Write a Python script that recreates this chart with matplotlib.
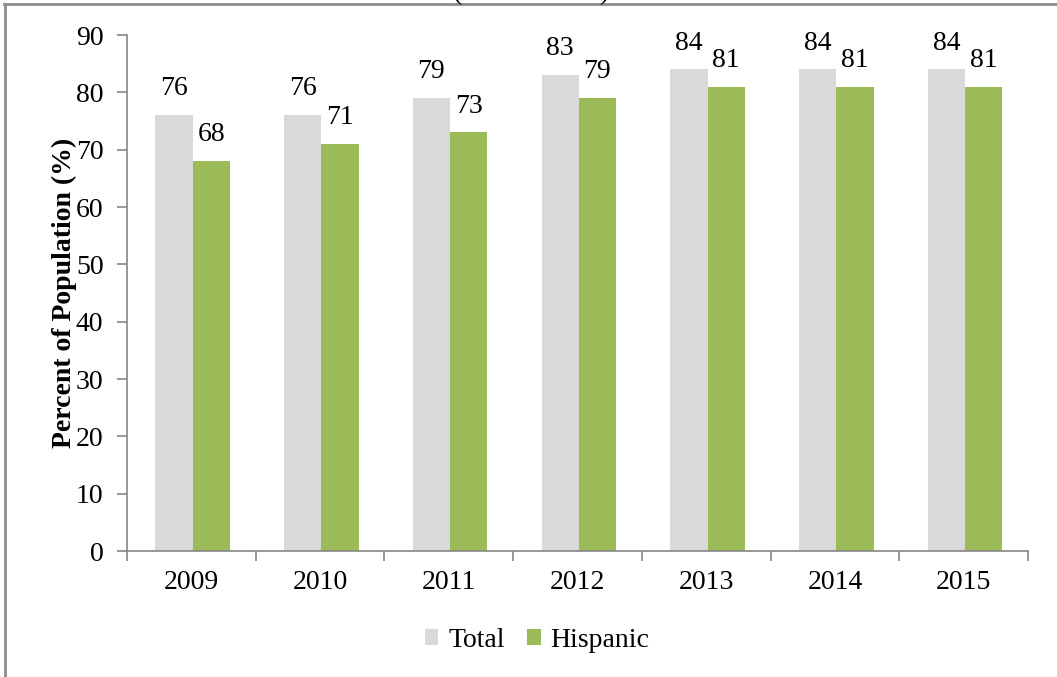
import numpy as np
import matplotlib.pyplot as plt
from matplotlib.lines import Line2D

years = ['2009', '2010', '2011', '2012', '2013', '2014', '2015']
total = [76, 76, 79, 83, 84, 84, 84]
hispanic = [68, 71, 73, 79, 81, 81, 81]

plt.rcParams['font.family'] = ['Liberation Serif', 'DejaVu Serif']
fs = 20

fig = plt.figure(figsize=(10.57, 6.77), dpi=100)
ax = fig.add_axes([0.1202, 0.1861, 0.8524, 0.7622])

x = np.arange(len(years))
w = 0.29
edge = '#868686'

b1 = ax.bar(x - w / 2 + 0.01, total, w, color='#D9D9D9', label='Total')
b2 = ax.bar(x + w / 2 + 0.01, hispanic, w, color='#9BBB59', label='Hispanic')

for bars, vals in ((b1, total), (b2, hispanic)):
    for r, v in zip(bars, vals):
        ax.annotate(str(v), (r.get_x() + r.get_width() / 2, v),
                    xytext=(0, 10), textcoords='offset points',
                    ha='center', va='bottom', fontsize=fs)

ax.set_xlim(-0.5, len(years) - 0.5)
ax.set_ylim(0, 90)
ax.set_yticks(range(0, 91, 10))
ax.set_xticks(x)
ax.set_xticklabels(years)
ax.set_xticks(np.arange(-0.5, len(years)), minor=True)

for s in ('top', 'right'):
    ax.spines[s].set_visible(False)
for s in ('left', 'bottom'):
    ax.spines[s].set_color(edge)
    ax.spines[s].set_linewidth(1.2)

ax.tick_params(axis='y', colors=edge, labelcolor='black', labelsize=fs,
               length=7, width=1.2, pad=10)
ax.tick_params(axis='x', which='major', length=0, labelsize=fs, pad=14)
ax.tick_params(axis='x', which='minor', colors=edge, length=7, width=1.2)

ax.set_ylabel('Percent of Population (%)', fontsize=fs, fontweight='bold')
ax.yaxis.set_label_coords(-0.056, 0.5)

fig.legend(handles=[b1, b2], loc='center', bbox_to_anchor=(0.508, 0.054),
           ncol=2, frameon=False, fontsize=fs, handlelength=0.5,
           handleheight=0.5, handletextpad=0.35, columnspacing=0.8)

# outer chart frame (top and left edges only)
fig.add_artist(Line2D([0.004, 1.0], [0.9935, 0.9935], color='#8c8c8c', lw=2,
                      transform=fig.transFigure))
fig.add_artist(Line2D([0.0045, 0.0045], [0.0, 0.9935], color='#8c8c8c', lw=2,
                      transform=fig.transFigure))

# tails of the title brackets at the top edge
fig.text(0.433, 1.002, '(', fontsize=fs, ha='center', va='baseline')
fig.text(0.571, 1.002, ')', fontsize=fs, ha='center', va='baseline')

fig.savefig('out.png', dpi=100)
